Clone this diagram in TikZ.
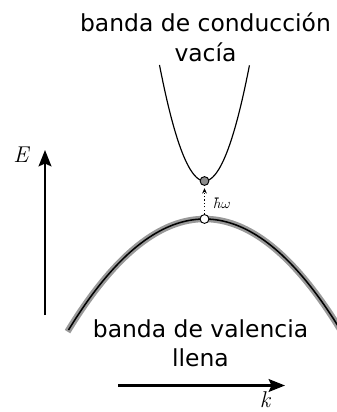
\documentclass[tikz,border=0pt]{standalone}
\usepackage{fontspec}
\setmainfont{DejaVu Sans}
\newfontfamily\lmfont{Latin Modern Roman}
\usetikzlibrary{arrows.meta, positioning}

\tikzset{
  bandtext/.style={align=center, inner sep=0pt, font=\fontsize{20}{25}\selectfont},
  axislabel/.style={inner sep=0pt, font=\lmfont\itshape\fontsize{19.5}{22}\selectfont},
  axis/.style={line width=1.8pt, -{Stealth[length=14pt,width=11pt,inset=2.5pt]}},
  state/.style={circle, draw, line width=0.8pt, inner sep=0pt, minimum size=7.5pt}
}

\begin{document}
\begin{tikzpicture}[x=0.03cm, y=-0.03cm]
\useasboundingbox (0,0) rectangle (337,412);

%colours
\colorlet{halocolor}{black!40}
\colorlet{electroncolor}{black!45}

%axes
  \coordinate (E0) at (45,315);
  \coordinate (E1) at (45,150);
  \coordinate (k0) at (118,385.5);
  \coordinate (k1) at (285,385.5);
  \draw[axis] (E0) -- (E1);
  \draw[axis] (k0) -- (k1);
  \node[axislabel] (Elabel) at (21,155) {E};
  \node[axislabel] (klabel) at (265,400) {k};

%bands
  \draw[halocolor, line width=5.5pt] plot[domain=-1.37:1.40, samples=80] ({204.5+100*\x},{219+60*\x*\x});
  \draw[line width=1.3pt] plot[domain=-1.36:1.40, samples=80] ({204.5+100*\x},{219+60*\x*\x});
  \draw[line width=1pt] plot[domain=-0.45:0.45, samples=60] ({204.5+100*\x},{181-573*\x*\x});

%states
  \node[state, fill=electroncolor] (electron) at (204.5,181) {};
  \node[state, fill=white] (hole) at (204.5,219) {};
  \draw[dotted, line width=0.9pt, -{Stealth[length=4.5pt,width=4pt]}, shorten >=2pt] (hole) -- (electron);
  \node[inner sep=0pt] (photon) at (222,203) {\scalebox{1.2}{$\hbar\omega$}};

%labels
  \node[bandtext, anchor=north] (condlabel) at (205.5,13) {banda de conducción\\vacía};
  \node[bandtext, anchor=north] (vallabel) at (200.5,319) {banda de valencia\\llena};
\end{tikzpicture}
\end{document}
